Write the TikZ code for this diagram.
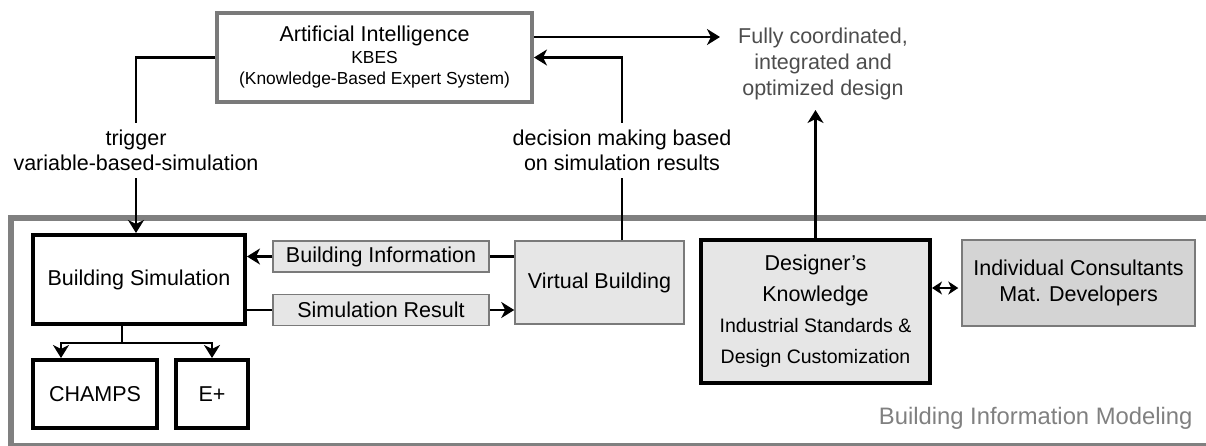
\documentclass[tikz,border=0pt]{standalone}
\usepackage{fontspec}
\setmainfont{Liberation Sans}
\usepackage{xcolor}
\usepackage{tikz}
\usetikzlibrary{arrows.meta, calc, positioning}
\definecolor{boxfill}{HTML}{E6E6E6}
\definecolor{consfill}{HTML}{D4D4D4}
\definecolor{edgegray}{HTML}{7A7A7A}
\definecolor{goaltext}{HTML}{4D4D4D}
\definecolor{bimtext}{HTML}{808080}
\newcommand{\mainsz}{\fontsize{21.5}{25}\selectfont}
\newcommand{\subsz}{\fontsize{17.4}{21.5}\selectfont}
\newcommand{\stdsz}{\fontsize{19.5}{31}\selectfont}
\tikzstyle{heavy}=[rectangle, draw=black, line width=4pt, inner sep=0pt, align=center, font=\mainsz]
\tikzstyle{aibox}=[rectangle, draw=edgegray, line width=4pt, inner sep=0pt, align=center]
\tikzstyle{light}=[rectangle, draw=edgegray, line width=1.5pt, fill=boxfill, inner sep=0pt, align=center, font=\mainsz]
\tikzstyle{lbl}=[align=center, font=\mainsz, inner xsep=2pt, inner ysep=7pt]
\tikzstyle{link}=[line width=2.2pt]
\tikzstyle{arr}=[-{Stealth[length=13pt, width=16pt, inset=4pt]}]
\tikzstyle{twoway}=[{Stealth[length=10pt, width=13pt, inset=3pt]}-{Stealth[length=10pt, width=13pt, inset=3pt]}]

\begin{document}
\begin{tikzpicture}[x=1pt, y=-1pt]
\useasboundingbox (0,0) rectangle (1206,445);

% BIM frame
\draw[draw=bimtext, line width=6pt] (11,218) rectangle (1220,446);
\node[anchor=east, text=bimtext, font=\fontsize{23.8}{27}\selectfont] (bim) at (1196,418) {Building Information Modeling};

% top row
\node[aibox, minimum width=315pt, minimum height=89pt, font=\fontsize{21.5}{21.5}\selectfont] (ai) at (374.5,57.5)
    {Artificial Intelligence\\{\subsz KBES}\\{\subsz (Knowledge-Based Expert System)}};
\node[align=center, text=goaltext, font=\fontsize{21.5}{26}\selectfont] (goal) at (823,64)
    {Fully coordinated,\\integrated and\\optimized design};
\node[lbl] (trig) at (136,150.5) {trigger\\variable-based-simulation};
\node[lbl] (dec) at (622,150.5) {decision making based\\on simulation results};

% simulation side
\node[heavy, minimum width=212pt, minimum height=89pt] (bsim) at (139,279.5) {Building Simulation};
\node[heavy, minimum width=124pt, minimum height=68pt] (champs) at (95,394) {CHAMPS};
\node[heavy, minimum width=72pt, minimum height=68pt, right=15pt of champs] (eplus) {E+};
\node[light, minimum width=216pt, minimum height=31pt] (binfo) at (381,256.5) {Building Information};
\node[light, minimum width=216pt, minimum height=31pt, below=21pt of binfo] (sres) {Simulation Result};
\node[light, minimum width=169pt, minimum height=83pt] (vb) at (599.5,282.5) {Virtual Building};

% design side
\node[heavy, fill=boxfill, minimum width=229pt, minimum height=143pt, font=\fontsize{21.5}{31}\selectfont] (dk) at (815.5,311.5)
    {Designer's\\Knowledge\\{\stdsz Industrial Standards \&}\\{\stdsz Design Customization}};
\node[light, fill=consfill, minimum width=233pt, minimum height=86pt, font=\fontsize{21.5}{26}\selectfont] (ic) at (1078.5,283)
    {Individual Consultants\\Mat. Developers};

% connectors
\coordinate (goalin) at (720,37);
\coordinate (goalout) at (815,110);
\coordinate (fork) at (122,343);
\coordinate (dkic) at (945,288);

\draw[link] (ai.west) -| (trig.north);
\draw[link, arr] (trig.south) -- (trig.south |- bsim.north);
\draw[link] (dec |- vb.north) -- (dec.south);
\draw[link, arr] (dec.north) |- (ai.east);
\draw[link, arr] (ai.east |- goalin) -- (goalin);
\draw[link, arr] (dk.north) -- (dk.north |- goalout);

\draw[link] (vb.west |- binfo.east) -- (binfo.east);
\draw[link, arr] (binfo.west) -- (binfo.west -| bsim.east);
\draw[link] (bsim.east |- sres.west) -- (sres.west);
\draw[link, arr] (sres.east) -- (sres.east -| vb.west);

\draw[link] (fork |- bsim.south) -- (fork);
\draw[link, arr] (fork) -| ([xshift=30pt]champs.north west);
\draw[link, arr] (fork) -| (eplus.north);

\draw[link, twoway, shorten >=3pt] (dk.east |- dkic) -- (ic.west |- dkic);

\end{tikzpicture}
\end{document}
